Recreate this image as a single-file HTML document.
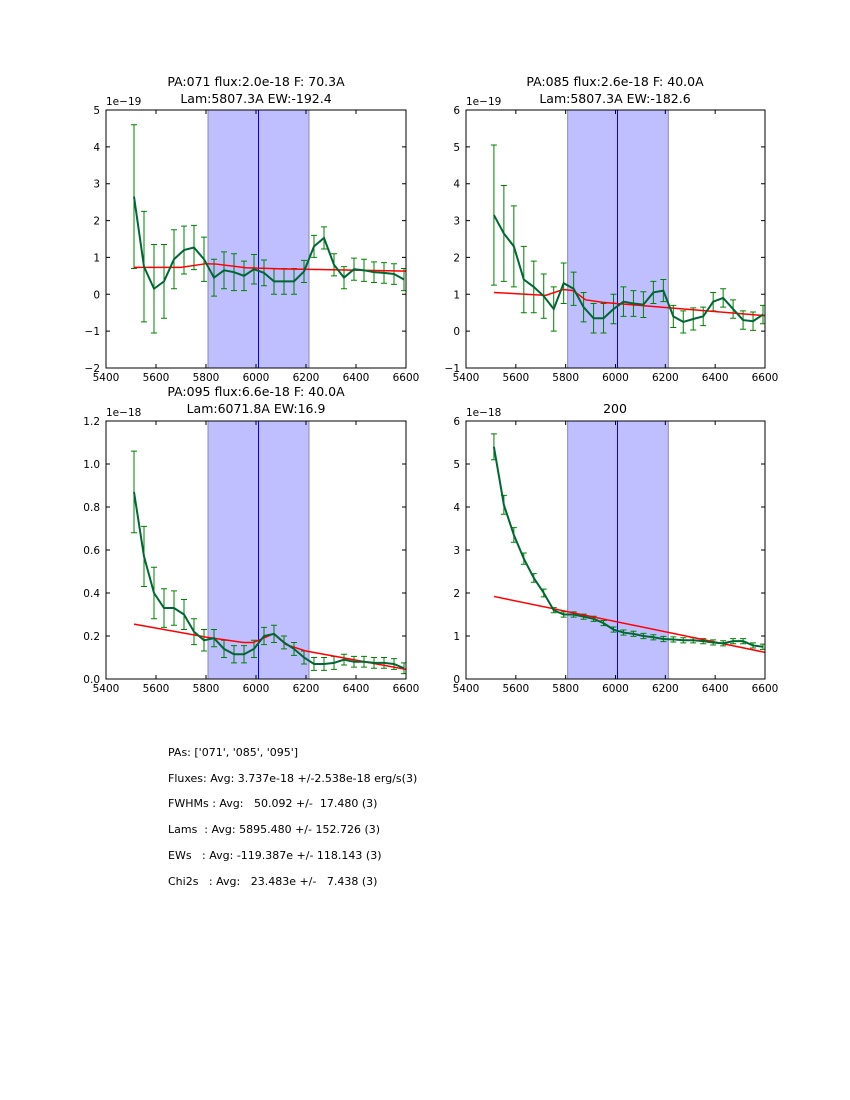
<!DOCTYPE html>
<html><head><meta charset="utf-8"><style>
body{margin:0;background:#fff}
svg{display:block;font-family:"DejaVu Sans","Liberation Sans",sans-serif}
text{white-space:pre}
</style></head><body>
<svg id="s" width="850" height="1100" xmlns="http://www.w3.org/2000/svg">
<g font-size="12.5" text-anchor="middle" fill="#000">
<text x="256" y="86">PA:071 flux:2.0e-18 F: 70.3A</text>
<text x="256" y="103">Lam:5807.3A EW:-192.4</text>
<text x="615" y="86">PA:085 flux:2.6e-18 F: 40.0A</text>
<text x="615" y="103">Lam:5807.3A EW:-182.6</text>
<text x="256" y="396">PA:095 flux:6.6e-18 F: 40.0A</text>
<text x="256" y="413">Lam:6071.8A EW:16.9</text>
<text x="615" y="413">200</text>
</g>
<g font-size="11" fill="#000" xml:space="preserve">
<text x="168" y="756">PAs: ['071', '085', '095']</text>
<text x="168" y="782">Fluxes: Avg: 3.737e-18 +/-2.538e-18 erg/s(3)</text>
<text x="168" y="807">FWHMs : Avg:   50.092 +/-  17.480 (3)</text>
<text x="168" y="833">Lams  : Avg: 5895.480 +/- 152.726 (3)</text>
<text x="168" y="859">EWs   : Avg: -119.387e +/- 118.143 (3)</text>
<text x="168" y="885">Chi2s   : Avg:   23.483e +/-   7.438 (3)</text>
</g>
</svg>
<script>
const S=document.getElementById('s');let h='';
function P(o){
 const {x0,y0,w,hh,ymin,ymax,ticks,lab,exp,v,e,red}=o;
 const X=l=>x0+(l-5400)/1200*w, Y=val=>y0+hh-(val-ymin)/(ymax-ymin)*hh;
 h+=`<svg x="${x0}" y="${y0}" width="${w}" height="${hh}" overflow="hidden"><g transform="translate(${-x0},${-y0})">`;
 h+=`<rect x="${X(5808)}" y="${y0}" width="${X(6212)-X(5808)}" height="${hh}" fill="#bfbfff" stroke="#8888bb" stroke-width="1"/>`;
 const bx=Math.round(X(6008))+0.5;
 h+=`<line x1="${bx}" x2="${bx}" y1="${y0}" y2="${y0+hh}" stroke="#0000ff" stroke-width="1"/>`;
 let pts=[];
 v.forEach((val,k)=>{const x=X(5512+40*k);pts.push(x+','+Y(val));
  const t=Y(val+e[k]),b=Y(val-e[k]);
  h+=`<path d="M${x} ${t}V${b}M${x-3} ${t}h6M${x-3} ${b}h6" stroke="#008000" stroke-width="1" fill="none"/>`;});
 let rp=red.map(p=>X(p[0])+','+Y(p[1])).join(' ');
 h+=`<polyline points="${rp}" fill="none" stroke="#ff0000" stroke-width="1.5"/>`;
 h+=`<polyline points="${pts.join(' ')}" fill="none" stroke="#006633" stroke-width="2"/>`;
 h+=`</g></svg>`;
 h+=`<rect x="${x0}" y="${y0}" width="${w}" height="${hh}" fill="none" stroke="#000" stroke-width="1"/>`;
 for(let l=5400;l<=6600;l+=200){const x=X(l);
  h+=`<path d="M${x} ${y0}v4M${x} ${y0+hh}v-4" stroke="#000"/>`;
  h+=`<text x="${x}" y="${y0+hh+13}" font-size="10.5" text-anchor="middle">${l}</text>`;}
 ticks.forEach((t,i)=>{const y=Y(t);
  h+=`<path d="M${x0} ${y}h4M${x0+w} ${y}h-4" stroke="#000"/>`;
  h+=`<text x="${x0-6}" y="${y+4}" font-size="10.5" text-anchor="end">${lab[i]}</text>`;});
 h+=`<text x="${x0}" y="${y0-5}" font-size="10.5">${exp}</text>`;
}
P({x0:106,y0:110,w:300,hh:258,ymin:-2,ymax:5,ticks:[-2,-1,0,1,2,3,4,5],lab:['\u22122','\u22121','0','1','2','3','4','5'],exp:'1e\u221219',
v:[2.65,0.75,0.15,0.35,0.95,1.2,1.27,0.95,0.45,0.65,0.6,0.5,0.68,0.58,0.35,0.35,0.35,0.62,1.3,1.53,0.8,0.45,0.68,0.65,0.6,0.58,0.55,0.4],
e:[1.95,1.5,1.2,1.0,0.8,0.65,0.6,0.6,0.5,0.5,0.5,0.4,0.4,0.35,0.35,0.35,0.35,0.3,0.3,0.3,0.3,0.3,0.3,0.3,0.28,0.28,0.28,0.3],
red:[[5512,0.73],[5700,0.73],[5800,0.83],[5840,0.82],[5960,0.72],[6100,0.69],[6600,0.63]]});
P({x0:466,y0:110,w:299,hh:258,ymin:-1,ymax:6,ticks:[-1,0,1,2,3,4,5,6],lab:['\u22121','0','1','2','3','4','5','6'],exp:'1e\u221219',
v:[3.15,2.65,2.3,1.4,1.2,0.95,0.6,1.3,1.15,0.65,0.35,0.35,0.6,0.8,0.75,0.72,1.05,1.1,0.4,0.25,0.33,0.4,0.8,0.9,0.6,0.3,0.27,0.45],
e:[1.9,1.3,1.1,0.9,0.7,0.6,0.6,0.55,0.45,0.4,0.4,0.4,0.4,0.4,0.35,0.35,0.3,0.3,0.3,0.3,0.3,0.25,0.25,0.25,0.25,0.25,0.25,0.25],
red:[[5512,1.05],[5720,0.97],[5790,1.13],[5830,1.1],[5880,0.85],[5950,0.78],[6600,0.42]]});
P({x0:106,y0:421,w:300,hh:258,ymin:0,ymax:1.2,ticks:[0,0.2,0.4,0.6,0.8,1.0,1.2],lab:['0.0','0.2','0.4','0.6','0.8','1.0','1.2'],exp:'1e\u221218',
v:[0.87,0.57,0.4,0.33,0.33,0.3,0.22,0.18,0.19,0.14,0.115,0.115,0.14,0.2,0.21,0.17,0.14,0.1,0.07,0.07,0.075,0.09,0.08,0.08,0.075,0.075,0.07,0.05],
e:[0.19,0.14,0.12,0.09,0.08,0.07,0.06,0.05,0.04,0.04,0.04,0.04,0.04,0.04,0.04,0.03,0.03,0.03,0.03,0.03,0.03,0.025,0.025,0.025,0.025,0.025,0.025,0.025],
red:[[5512,0.255],[5800,0.195],[5950,0.17],[5990,0.17],[6070,0.21],[6120,0.16],[6200,0.13],[6600,0.045]]});
const bv=[5.4,4.05,3.35,2.8,2.35,2.0,1.6,1.5,1.5,1.45,1.4,1.3,1.15,1.08,1.05,1.0,0.97,0.93,0.92,0.9,0.9,0.88,0.85,0.83,0.88,0.88,0.78,0.75];
P({x0:466,y0:421,w:299,hh:258,ymin:0,ymax:6,ticks:[0,1,2,3,4,5,6],lab:['0','1','2','3','4','5','6'],exp:'1e\u221218',
v:bv,e:bv.map((x,i)=>i<6?[0.3,0.22,0.17,0.13,0.1,0.09][i]:0.06),
red:[[5512,1.92],[6600,0.62]]});
S.insertAdjacentHTML('beforeend',h);
</script>
</body></html>
